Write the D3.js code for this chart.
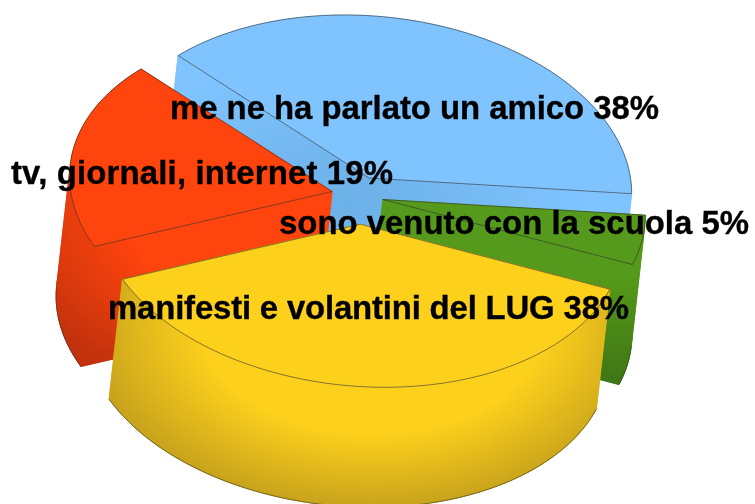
<!DOCTYPE html>
<html><head><meta charset="utf-8">
<style>html,body{margin:0;padding:0;background:#fff}svg{display:block}text{font-family:"Liberation Sans",Arial,sans-serif;font-weight:bold;fill:#000;stroke:#000;stroke-width:0.35px}</style>
<script src="https://cdn.jsdelivr.net/npm/d3@7/dist/d3.min.js"></script>
</head><body><script>
const categories = ["manifesti e volantini del LUG","sono venuto con la scuola","me ne ha parlato un amico","tv, giornali, internet"];
const values = [38,5,38,19];
const topColors = ["#fdd01e","#559a1a","#80c4ff","#ff4409"];
const explode = [0.176,0.098,0.12,0.098];
const labelX = [108,279,170,11];
const labelY = [319,234,119,184];
const labelW = [521,470,489,382];

const W=755,H=504;
const C=[357.5,195.5], D=[16,163], E=[262,5.4], V=[-13.5,120];
const svg=d3.select("body").append("svg").attr("width",W).attr("height",H);
const defs=svg.append("defs");
defs.append("filter").attr("id","soft").attr("x",-0.05).attr("y",-0.05).attr("width",1.1).attr("height",1.1)
  .append("feGaussianBlur").attr("stdDeviation",0.45);

const grad=(id,cx,cy,rx,ry,c0,c1,s)=>{
  const g=defs.append("radialGradient").attr("id",id).attr("gradientUnits","userSpaceOnUse")
    .attr("cx",0).attr("cy",0).attr("r",1).attr("gradientTransform",`translate(${cx},${cy}) scale(${rx},${ry})`);
  g.append("stop").attr("offset",s).attr("stop-color",c0);
  g.append("stop").attr("offset",1).attr("stop-color",c1);
};
grad("w0",373,325,285,182,"#fdd01e","#c8a31a",0.6);
const lg=defs.append("linearGradient").attr("id","w1").attr("gradientUnits","userSpaceOnUse").attr("x1",0).attr("y1",275).attr("x2",0).attr("y2",385);
lg.append("stop").attr("offset",0).attr("stop-color","#559a1a");
lg.append("stop").attr("offset",1).attr("stop-color","#3f7513");
grad("w2",350,200,240,150,"#6cb0e8","#80c4ff",0);
grad("w3",333,191,345,225,"#ff4409","#c43208",0.62);

const pie=d3.pie().sort(null).startAngle(-Math.PI*0.38).endAngle(Math.PI*2-Math.PI*0.38);
const arcs=pie(values);
const line=d3.line();
const project=(a,apex,off=[0,0])=>[apex[0]+D[0]*Math.cos(a)+E[0]*Math.sin(a)+off[0],apex[1]+D[1]*Math.cos(a)+E[1]*Math.sin(a)+off[1]];
const sample=(s,e)=>{const n=Math.max(8,Math.ceil((e-s)*40));return d3.range(n+1).map(i=>s+(e-s)*i/n);};

const order=[2,3,1,0];
const g=svg.append("g").attr("filter","url(#soft)");
order.forEach(i=>{
  const d=arcs[i], mid=(d.startAngle+d.endAngle)/2;
  const m=[D[0]*Math.cos(mid)+E[0]*Math.sin(mid),D[1]*Math.cos(mid)+E[1]*Math.sin(mid)];
  const apex=[C[0]+m[0]*explode[i],C[1]+m[1]*explode[i]];
  const as=sample(d.startAngle,d.endAngle);
  const rim=as.map(a=>project(a,apex));
  const low=as.map(a=>project(a,apex,V));
  const apexLow=[apex[0]+V[0],apex[1]+V[1]];
  const wall="url(#w"+i+")";
  const sl=g.append("g");
  const fillWall=pts=>sl.append("path").attr("d",line(pts)+"Z").attr("fill",wall).attr("stroke",wall).attr("stroke-width",0.8).attr("stroke-linejoin","round");
  fillWall([apexLow,...low]);
  fillWall([apex,rim[0],low[0],apexLow]);
  fillWall([apex,rim[rim.length-1],low[low.length-1],apexLow]);
  // outer wall: split where the rim turns relative to the extrusion, so folded parts do not cancel
  const sign=j=>Math.sign((rim[j+1][0]-rim[j][0])*V[1]-(rim[j+1][1]-rim[j][1])*V[0]);
  let start=0;
  for(let j=0;j<rim.length-1;j++){
    if(j===rim.length-2||sign(j+1)!==sign(j)){
      fillWall([...rim.slice(start,j+2),...low.slice(start,j+2).reverse()]);
      if(sign(j)>0) sl.append("path").attr("d",line(low.slice(start,j+2))).attr("fill","none").attr("stroke","#3a3a2a").attr("stroke-width",0.7).attr("stroke-opacity",0.8);
      start=j+1;
    }
  }
  sl.append("path").attr("d",line([apex,...rim])+"Z").attr("fill",topColors[i]).attr("stroke","#333").attr("stroke-width",0.7).attr("stroke-opacity",0.85);
});
const t=g.append("g");
t.selectAll("text").data(categories).join("text")
  .attr("x",(d,i)=>labelX[i]).attr("y",(d,i)=>labelY[i]).attr("font-size",32.9)
  .attr("textLength",(d,i)=>labelW[i]).attr("lengthAdjust","spacing")
  .text((d,i)=>d+" "+values[i]+"%");
</script></body></html>
